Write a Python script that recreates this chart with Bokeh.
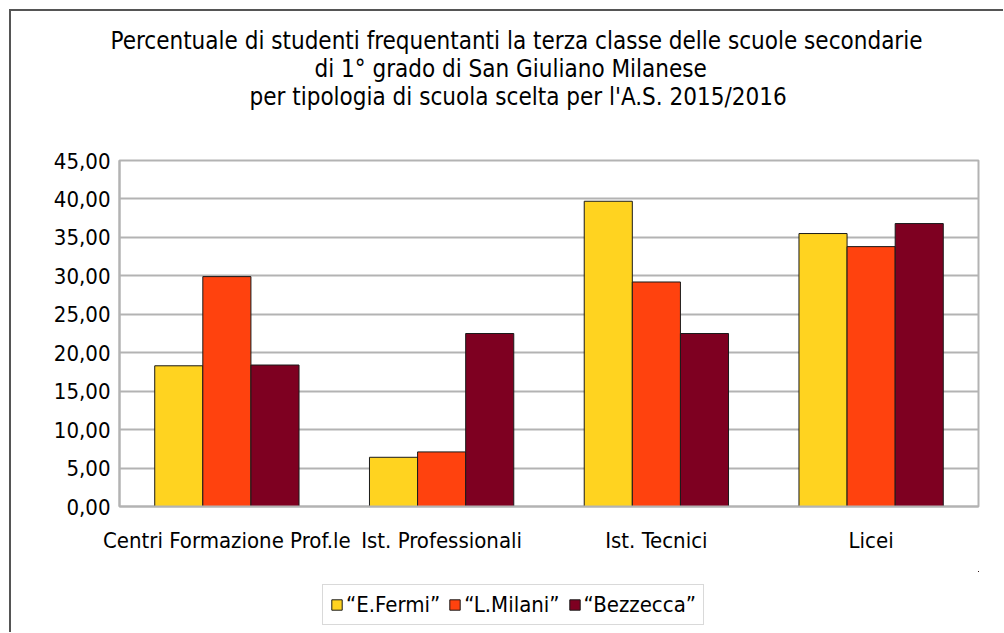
from bokeh.plotting import figure
from bokeh.layouts import column
from bokeh.models import FactorRange, FixedTicker, Title, Legend, LegendItem, ColumnDataSource
from bokeh.transform import dodge
from bokeh.embed import file_html
from bokeh.resources import INLINE

categories = ["Centri Formazione Prof.le", "Ist. Professionali", "Ist. Tecnici", "Licei"]
series_names = ["\u201cE.Fermi\u201d", "\u201cL.Milani\u201d", "\u201cBezzecca\u201d"]
fermi = [18.3, 6.4, 39.7, 35.5]
milani = [29.9, 7.1, 29.2, 33.8]
bezzecca = [18.4, 22.5, 22.5, 36.8]
series_colors = ["#FFD320", "#FF420E", "#7E0021"]
y_ticks = [0, 5, 10, 15, 20, 25, 30, 35, 40, 45]
y_tick_labels = ["0,00", "5,00", "10,00", "15,00", "20,00", "25,00", "30,00", "35,00", "40,00", "45,00"]
title_lines = [
    "Percentuale di studenti frequentanti la terza classe delle scuole secondarie",
    "di 1\u00b0 grado di San Giuliano Milanese",
    "per tipologia di scuola scelta per l'A.S. 2015/2016",
]

FONT = "DejaVu Sans Condensed, DejaVu Sans"
FS = "22px"
TFS = "24px"
OUTLINE = "#1a1a1a"

src = ColumnDataSource(dict(cat=categories, fermi=fermi, milani=milani, bezzecca=bezzecca))
cols = ["fermi", "milani", "bezzecca"]

p = figure(x_range=FactorRange(*categories), y_range=(0, 45),
           frame_width=859, frame_height=346, output_backend="svg", toolbar_location=None,
           min_border_left=108, min_border_right=25, min_border_top=149, min_border_bottom=65)
p.background_fill_color = "white"
p.border_fill_color = "white"
p.outline_line_color = "#b3b3b3"
p.outline_line_width = 2

bw = 0.224
for i, (c, col) in enumerate(zip(cols, series_colors)):
    p.vbar(x=dodge("cat", (i - 1) * bw, range=p.x_range), top=c, width=bw, source=src,
           fill_color=col, line_color=OUTLINE, line_width=1)

p.xgrid.grid_line_color = None
p.ygrid.grid_line_color = "#b3b3b3"
p.ygrid.grid_line_width = 2
p.yaxis.ticker = FixedTicker(ticks=y_ticks)
p.yaxis.major_label_overrides = {t: l for t, l in zip(y_ticks, y_tick_labels)}
for ax in (p.xaxis, p.yaxis):
    ax.axis_line_color = "#b3b3b3"
    ax.axis_line_width = 2
    ax.major_tick_line_color = None
    ax.minor_tick_line_color = None
    ax.major_tick_out = 0
    ax.major_tick_in = 0
    ax.major_label_text_font = FONT
    ax.major_label_text_font_size = FS
    ax.major_label_text_color = "black"
p.yaxis.major_label_standoff = 9
p.xaxis.major_label_standoff = 21

# spacer between frame and title block
p.add_layout(Title(text=" ", text_font_size="2px", standoff=47), "above")
# title lines (first added is closest to frame)
offsets = [-9, 195, 130]
for k in (2, 1, 0):
    t = Title(text=title_lines[k], align="left", offset=offsets[k],
              text_font=FONT, text_font_size=TFS, text_font_style="normal",
              text_color="black", standoff=-2)
    p.add_layout(t, "above")

# legend strip below the chart (its frame is aligned with the chart frame by the column)
p2 = figure(width=992, height=61, x_range=(-2, -1), y_range=(-2, -1),
            output_backend="svg", toolbar_location=None,
            min_border_left=0, min_border_right=0, min_border_top=0, min_border_bottom=0,
            x_axis_type=None, y_axis_type=None)
p2.grid.visible = False
p2.outline_line_color = None
p2.background_fill_color = "white"
p2.border_fill_color = "white"
legend_rends = []
for c, col in zip(cols, series_colors):
    # same series values; they lie outside this strip's ranges, so only the legend swatch shows
    legend_rends.append(p2.vbar(x=c, top=c, bottom=c, width=0.1, source=src, fill_color=col,
                                line_color=OUTLINE, line_width=1))
legend = Legend(items=[LegendItem(label=n, renderers=[r]) for n, r in zip(series_names, legend_rends)],
                orientation="horizontal", location=(203, 7),
                label_text_font=FONT, label_text_font_size=FS, label_text_color="black",
                glyph_width=13, glyph_height=13, label_standoff=3, spacing=8,
                padding=7, margin=0, border_line_color="#b3b3b3", border_line_width=1)
p2.add_layout(legend, "center")

layout = column(p, p2, spacing=0)
layout.styles = {"margin-left": "9px", "margin-top": "9px",
                 "border-left": "2px solid #555555", "border-top": "2px solid #555555"}

open("out.html", "w").write(file_html(layout, INLINE))
